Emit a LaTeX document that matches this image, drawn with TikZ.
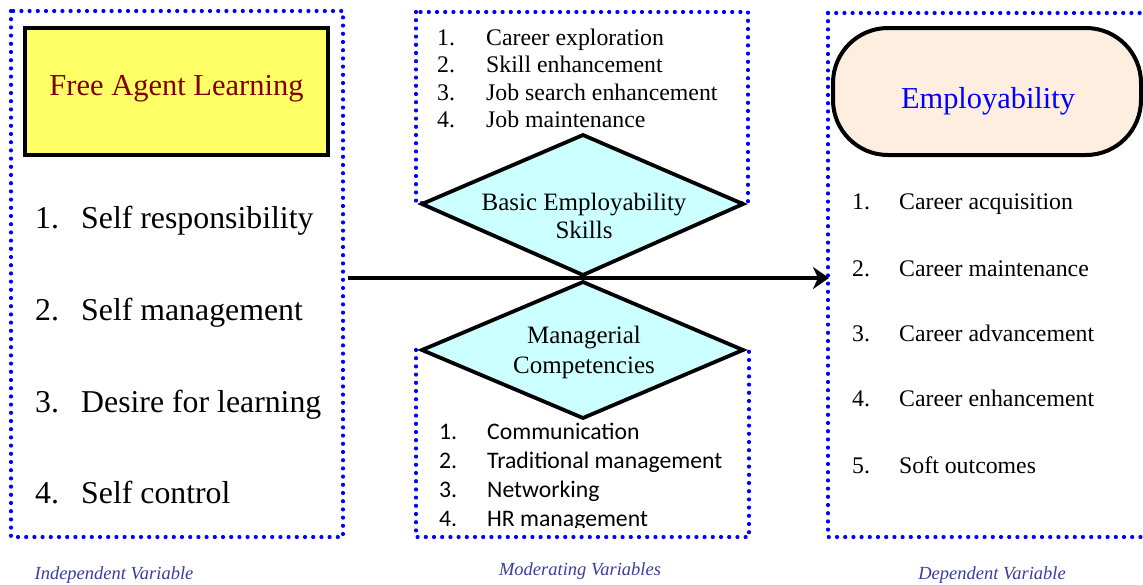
\documentclass[tikz,border=0pt]{standalone}
\usepackage{fontspec}
\setmainfont{Liberation Serif}
\newfontfamily\calib{Carlito}
\usetikzlibrary{shapes.geometric,arrows.meta}
\definecolor{dotblue}{RGB}{0,0,255}
\definecolor{falfill}{RGB}{255,255,102}
\definecolor{faltext}{RGB}{128,0,0}
\definecolor{diafill}{RGB}{204,255,255}
\definecolor{empfill}{RGB}{253,238,224}
\definecolor{labblue}{RGB}{60,60,160}
\tikzset{
  dotbox/.style={draw=dotblue, line width=4.2pt, line cap=round, dash pattern=on 0pt off 8.2pt},
  diamline/.style={line width=3.8pt, fill=diafill, line join=miter},
  itemtxt/.style={anchor=base west, inner sep=0pt},
  vlabel/.style={anchor=base, inner sep=0pt, text=labblue, font=\fontsize{18.5}{20}\selectfont\itshape},
}
\begin{document}
\begin{tikzpicture}[x=1pt,y=-1pt]
\useasboundingbox (0,0) rectangle (1143,584);
% dotted boxes
\draw[dotbox] (11,11) rectangle (343,537);
\draw[dotbox] (416,12) rectangle (748,203);
\draw[dotbox] (416,350) rectangle (749,537);
\draw[dotbox] (828,13) -- (1160,13);
\draw[dotbox] (828,13) -- (828,537) -- (1160,537);
% Free agent learning box
\node[draw=black, line width=4pt, fill=falfill, minimum width=303pt, minimum height=127pt, inner sep=0pt] (fal) at (176.5,91.5) {};
\node[itemtxt, anchor=base, text=faltext, font=\fontsize{30.5}{32}\selectfont] (faltxt) at (176.5,95) {Free Agent Learning};
% employability
\node[draw=black, line width=4pt, fill=empfill, rounded corners=55pt, minimum width=308pt, minimum height=127pt, inner sep=0pt] (emp) at (987,91.5) {};
\node[itemtxt, anchor=base, text=dotblue, font=\fontsize{30.4}{32}\selectfont] (emptxt) at (988,108) {Employability};
% left list
\begin{scope}[font=\fontsize{31.8}{34}\selectfont]
\node[itemtxt] (l1n) at (35,228) {1.};
\node[itemtxt] (l1) at (81,228) {Self responsibility};
\node[itemtxt] (l2n) at (35,320) {2.};
\node[itemtxt] (l2) at (81,320) {Self management};
\node[itemtxt] (l3n) at (35,412) {3.};
\node[itemtxt] (l3) at (81,412) {Desire for learning};
\node[itemtxt] (l4n) at (35,503) {4.};
\node[itemtxt] (l4) at (81,503) {Self control};
\end{scope}
% top middle list
\begin{scope}[font=\fontsize{23.8}{26}\selectfont]
\node[itemtxt] (t1n) at (437,45) {1.};
\node[itemtxt] (t1) at (486,45) {Career exploration};
\node[itemtxt] (t2n) at (437,72) {2.};
\node[itemtxt] (t2) at (486,72) {Skill enhancement};
\node[itemtxt] (t3n) at (437,100) {3.};
\node[itemtxt] (t3) at (486,100) {Job search enhancement};
\node[itemtxt] (t4n) at (437,127) {4.};
\node[itemtxt] (t4) at (486,127) {Job maintenance};
\end{scope}
% right list
\begin{scope}[font=\fontsize{23.8}{26}\selectfont]
\node[itemtxt] (r1n) at (852,209) {1.};
\node[itemtxt] (r1) at (899,209) {Career acquisition};
\node[itemtxt] (r2n) at (852,276) {2.};
\node[itemtxt] (r2) at (899,276) {Career maintenance};
\node[itemtxt] (r3n) at (852,341) {3.};
\node[itemtxt] (r3) at (899,341) {Career advancement};
\node[itemtxt] (r4n) at (852,406) {4.};
\node[itemtxt] (r4) at (899,406) {Career enhancement};
\node[itemtxt] (r5n) at (852,473) {5.};
\node[itemtxt] (r5) at (899,473) {Soft outcomes};
\end{scope}
% bottom middle list (clipped)
\begin{scope}
\clip (400,400) rectangle (760,527);
\begin{scope}[font=\calib\fontsize{23.7}{26}\selectfont]
\node[itemtxt] (b1n) at (439,439) {1.};
\node[itemtxt] (b1) at (487,439) {Communication};
\node[itemtxt] (b2n) at (439,468) {2.};
\node[itemtxt] (b2) at (487,468) {Traditional management};
\node[itemtxt] (b3n) at (439,497) {3.};
\node[itemtxt] (b3) at (487,497) {Networking};
\node[itemtxt] (b4n) at (439,526) {4.};
\node[itemtxt] (b4) at (487,526) {HR management};
\end{scope}
\end{scope}
% diamonds
\draw[diamline] (583,135) coordinate (d1t) -- (743,204) coordinate (d1r) -- (583,275) coordinate (d1b) -- (422,204) coordinate (d1l) -- cycle;
\draw[diamline] (583,282) coordinate (d2t) -- (743,350) coordinate (d2r) -- (583,418) coordinate (d2b) -- (422,350) coordinate (d2l) -- cycle;
\node[align=center, inner sep=0pt, anchor=base, font=\fontsize{25}{28}\selectfont] (bes) at (584,238) {Basic Employability\\Skills};
\node[align=center, inner sep=0pt, anchor=base, font=\fontsize{25}{30}\selectfont] (mc) at (584,373) {Managerial\\Competencies};
% arrow
\coordinate (as) at (348,278);
\coordinate (ae) at (829,278);
\draw[line width=4.5pt, -{Stealth[length=16pt,width=22pt,inset=5pt]}] (as) -- (ae);
% labels
\node[vlabel] (iv) at (114,579) {Independent Variable};
\node[vlabel] (mv) at (580,575) {Moderating Variables};
\node[vlabel] (dv) at (992,579) {Dependent Variable};
\end{tikzpicture}
\end{document}
